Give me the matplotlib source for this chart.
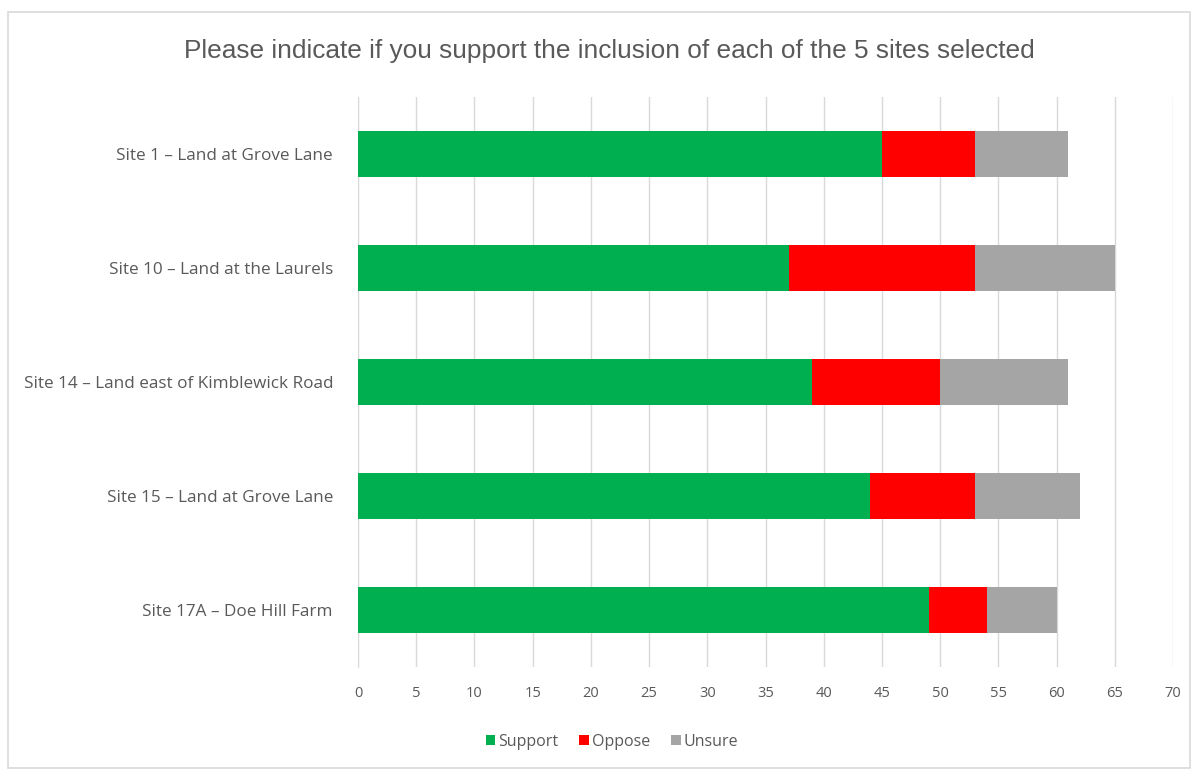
import numpy as np
import matplotlib
matplotlib.use("Agg")
import matplotlib.pyplot as plt
from matplotlib.patches import Rectangle

sites = [
    "Site 1 \u2013 Land at Grove Lane",
    "Site 10 \u2013 Land at the Laurels",
    "Site 14 \u2013 Land east of Kimblewick Road",
    "Site 15 \u2013 Land at Grove Lane",
    "Site 17A \u2013 Doe Hill Farm",
]
support = [45, 37, 39, 44, 49]
oppose = [8, 16, 11, 9, 5]
unsure = [8, 12, 11, 9, 6]

plt.rcParams['font.family'] = ['Open Sans', 'DejaVu Sans']
txt = '#595959'

fig = plt.figure(figsize=(11.97, 7.72), dpi=100)
ax = fig.add_axes([358 / 1197, 1 - 667 / 772, 815 / 1197, 570 / 772])

# outer chart border
fig.patches.append(Rectangle((8 / 1197, 4 / 772), 1182 / 1197, 756 / 772,
                             transform=fig.transFigure, fill=False,
                             edgecolor='#d9d9d9', linewidth=1.2))

y = np.arange(len(sites))
sup = np.array(support)
opp = np.array(oppose)
uns = np.array(unsure)
h = 0.395
ax.barh(y, sup, height=h, color='#00B050', label='Support', zorder=3)
ax.barh(y, opp, left=sup, height=h, color='#FF0000', label='Oppose', zorder=3)
ax.barh(y, uns, left=sup + opp, height=h, color='#A5A5A5', label='Unsure', zorder=3)

ax.set_ylim(len(sites) - 0.5, -0.5)
ax.set_xlim(0, 70)
ax.set_xticks(np.arange(0, 71, 5))
ax.set_yticks(y)
ax.set_yticklabels(sites, fontsize=12.3)
ax.grid(axis='x', color='#d9d9d9', linewidth=1, zorder=0)
for s in ['top', 'right', 'bottom']:
    ax.spines[s].set_visible(False)
ax.spines['left'].set_color('#d9d9d9')
ax.tick_params(axis='both', length=0, colors=txt)
ax.tick_params(axis='x', labelsize=10.5, pad=14)
ax.tick_params(axis='y', pad=18)

fig.text(609 / 1197, 1 - 51 / 772, 'Please indicate if you support the inclusion of each of the 5 sites selected',
         ha='center', va='center', fontsize=18.9, color=txt, family=['Liberation Sans', 'DejaVu Sans'])

ax.legend(loc='center', bbox_to_anchor=(612 / 1197, 1 - 742 / 772),
          bbox_transform=fig.transFigure, ncol=3, frameon=False,
          fontsize=11.5, labelcolor=txt, handlelength=0.6, handleheight=0.6,
          handletextpad=0.2, columnspacing=1.3)

fig.savefig('out.png', dpi=100)
